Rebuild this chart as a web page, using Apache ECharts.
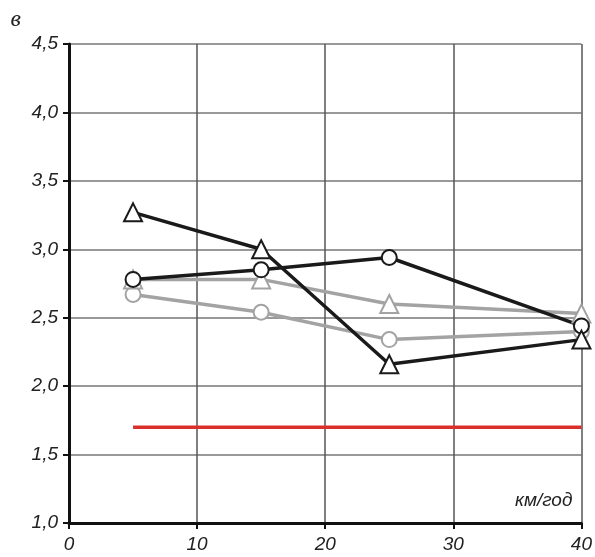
<!DOCTYPE html>
<html>
<head>
<meta charset="utf-8">
<script src="https://cdn.jsdelivr.net/npm/echarts@6/dist/echarts.min.js"></script>
<style>
  html, body { margin: 0; padding: 0; background: #fff; }
  #chart { width: 595px; height: 557px; }
</style>
</head>
<body>
<div id="chart"></div>
<script>
// speeds, km/h
var speeds = [5, 15, 25, 40];
var blackCircle = [2.78, 2.85, 2.94, 2.44];
var blackTriangle = [3.27, 3.0, 2.16, 2.34];
var grayTriangle = [2.78, 2.78, 2.6, 2.53];
var grayCircle = [2.67, 2.54, 2.34, 2.4];
var redLine = [[5, 1.7], [40, 1.7]];

function pairs(vals) {
    return speeds.map(function (x, i) { return [x, vals[i]]; });
}

var labelFont = { fontFamily: 'Liberation Sans', fontStyle: 'italic', fontSize: 19, color: '#222' };

function lineSeries(vals, color, symbol, size) {
    return {
        type: 'line',
        data: pairs(vals),
        symbol: symbol,
        symbolSize: size,
        showAllSymbol: true,
        lineStyle: { color: color, width: 3.5 },
        itemStyle: { color: '#fff', borderColor: color, borderWidth: 2 },
        z: 3
    };
}

var chart = echarts.init(document.getElementById('chart'));
chart.setOption({
    animation: false,
    grid: { left: 69, right: 13, top: 44, bottom: 34 },
    xAxis: {
        type: 'value',
        min: 0, max: 40, interval: 10,
        name: 'км/год',
        nameLocation: 'end',
        nameGap: 0,
        nameTextStyle: { fontFamily: 'Liberation Sans', fontStyle: 'italic', fontSize: 19, color: '#222',
            align: 'right', verticalAlign: 'bottom', padding: [0, 9, 13, 0] },
        axisLine: { lineStyle: { color: '#111', width: 3 } },
        axisTick: { show: true, length: 6, lineStyle: { color: '#111', width: 2 } },
        axisLabel: Object.assign({ margin: 12 }, labelFont),
        splitLine: { show: true, lineStyle: { color: '#555', width: 1.5 } }
    },
    yAxis: {
        type: 'value',
        min: 1.0, max: 4.5, interval: 0.5,
        name: 'в',
        nameLocation: 'end',
        nameGap: 12,
        nameTextStyle: { fontFamily: 'Liberation Serif', fontStyle: 'italic', fontSize: 24, color: '#222',
            align: 'right', padding: [0, 48, 0, 0] },
        axisLine: { show: true, lineStyle: { color: '#111', width: 3 } },
        axisTick: { show: true, length: 6, lineStyle: { color: '#111', width: 2 } },
        axisLabel: Object.assign({ margin: 11, formatter: function (v) { return v.toFixed(1).replace('.', ','); } }, labelFont),
        splitLine: { show: true, lineStyle: { color: '#777', width: 1.5 } }
    },
    series: [
        lineSeries(grayCircle, '#a3a3a3', 'circle', 15),
        lineSeries(grayTriangle, '#a3a3a3', 'triangle', 18),
        lineSeries(blackCircle, '#1a1a1a', 'circle', 15),
        lineSeries(blackTriangle, '#1a1a1a', 'triangle', 18),
        {
            type: 'line',
            data: redLine,
            symbol: 'none',
            lineStyle: { color: '#d9302e', width: 3.5 }
        }
    ]
});
</script>
</body>
</html>
